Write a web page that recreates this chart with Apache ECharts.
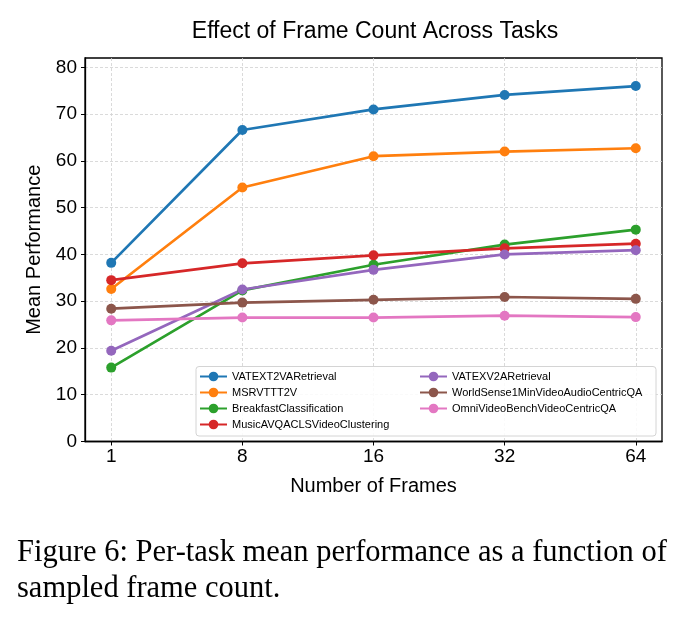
<!DOCTYPE html>
<html lang="en">

<head>
    <meta charset="UTF-8">
    <title>Effect of Frame Count Across Tasks</title>
    <script src="https://cdn.jsdelivr.net/npm/echarts@6.0.0/dist/echarts.min.js"></script>
    <style>
        body { margin: 0; background: #fff; }
        #main { width: 686px; height: 619px; }
    </style>
</head>

<body>
    <div id="main"></div>
    <script type="text/javascript">
        // tick labels
        var frames = ['1', '8', '16', '32', '64'];
        var yTicks = [0, 10, 20, 30, 40, 50, 60, 70, 80];

        // series names and values (one value per frame count)
        var taskNames = [
            'VATEXT2VARetrieval',
            'MSRVTTT2V',
            'BreakfastClassification',
            'MusicAVQACLSVideoClustering',
            'VATEXV2ARetrieval',
            'WorldSense1MinVideoAudioCentricQA',
            'OmniVideoBenchVideoCentricQA'
        ];
        var vatexT2VA = [38.2, 66.6, 71.0, 74.1, 76.0];
        var msrvttT2V = [32.6, 54.3, 61.0, 62.0, 62.7];
        var breakfast = [15.8, 32.3, 37.8, 42.1, 45.3];
        var musicAVQA = [34.5, 38.1, 39.8, 41.3, 42.3];
        var vatexV2A = [19.4, 32.5, 36.7, 40.0, 40.9];
        var worldSense = [28.4, 29.7, 30.3, 30.9, 30.5];
        var omniVideo = [25.9, 26.5, 26.5, 26.9, 26.6];

        var colors = ['#1f77b4', '#ff7f0e', '#2ca02c', '#d62728', '#9467bd', '#8c564b', '#e377c2'];
        var allValues = [vatexT2VA, msrvttT2V, breakfast, musicAVQA, vatexV2A, worldSense, omniVideo];
        var tickIdx = frames.map(function (f, i) { return i; });

        var grafico = echarts.init(document.getElementById('main'));

        var series = allValues.map(function (vals, k) {
            return {
                name: taskNames[k],
                type: 'line',
                data: vals.map(function (v, i) { return [i, v]; }),
                symbol: 'circle',
                symbolSize: 10,
                itemStyle: { color: colors[k] },
                lineStyle: { width: 2.7, color: colors[k] }
            };
        });

        var legendCommon = {
            orient: 'vertical',
            top: 370.5,
            padding: 0,
            itemWidth: 27,
            itemHeight: 12,
            itemGap: 4,
            textStyle: { fontFamily: 'Liberation Sans', fontSize: 11, color: '#000', lineHeight: 12 }
        };

        var option = {
            animation: false,
            title: {
                text: 'Effect of Frame Count Across Tasks',
                left: 375,
                textAlign: 'center',
                top: 20,
                padding: 0,
                textStyle: { fontFamily: 'Liberation Sans', fontSize: 23, fontWeight: 'normal', color: '#000' }
            },
            grid: {
                left: 85,
                right: 24,
                top: 58,
                bottom: 177.5,
                show: true,
                borderColor: '#000',
                borderWidth: 1.3,
                backgroundColor: '#fff'
            },
            legend: [
                Object.assign({ left: 199, data: taskNames.slice(0, 4) }, legendCommon),
                Object.assign({ left: 419, data: taskNames.slice(4) }, legendCommon)
            ],
            graphic: [
                {
                    type: 'rect',
                    z: 3,
                    shape: { x: 196, y: 366.5, width: 460, height: 69.5, r: 3 },
                    style: { fill: 'rgba(255,255,255,0.85)', stroke: '#d4d4d4', lineWidth: 1 }
                },
                {
                    type: 'text',
                    left: 17,
                    top: 535,
                    style: {
                        text: 'Figure 6: Per-task mean performance as a function of\nsampled frame count.',
                        font: '30.5px "Liberation Serif"',
                        fill: '#000',
                        lineHeight: 36
                    }
                }
            ],
            xAxis: {
                type: 'value',
                min: -0.2,
                max: 4.2,
                name: 'Number of Frames',
                nameLocation: 'middle',
                nameGap: 35,
                nameTextStyle: { fontFamily: 'Liberation Sans', fontSize: 20, color: '#000' },
                axisLine: { onZero: false, lineStyle: { color: '#000', width: 1.3 } },
                axisTick: { show: true, length: 4, customValues: tickIdx, lineStyle: { color: '#000' } },
                axisLabel: {
                    customValues: tickIdx,
                    margin: 6,
                    fontFamily: 'Liberation Sans',
                    fontSize: 19,
                    color: '#000',
                    formatter: function (v) { return frames[Math.round(v)]; }
                },
                splitLine: { show: true, lineStyle: { color: '#d0d0d0', width: 0.8, type: [3, 2] } }
            },
            yAxis: {
                type: 'value',
                min: 0,
                max: 82,
                interval: 10,
                name: 'Mean Performance',
                nameLocation: 'middle',
                nameRotate: 90,
                nameGap: 41,
                nameTextStyle: { fontFamily: 'Liberation Sans', fontSize: 20, color: '#000' },
                axisLine: { show: true, onZero: false, lineStyle: { color: '#000', width: 1.3 } },
                axisTick: { show: true, length: 4, customValues: yTicks, lineStyle: { color: '#000' } },
                axisLabel: {
                    customValues: yTicks,
                    margin: 8,
                    fontFamily: 'Liberation Sans',
                    fontSize: 19,
                    color: '#000'
                },
                splitLine: { show: true, lineStyle: { color: '#d0d0d0', width: 0.8, type: [3, 2] } }
            },
            series: series
        };
        grafico.setOption(option);
    </script>
</body>

</html>
